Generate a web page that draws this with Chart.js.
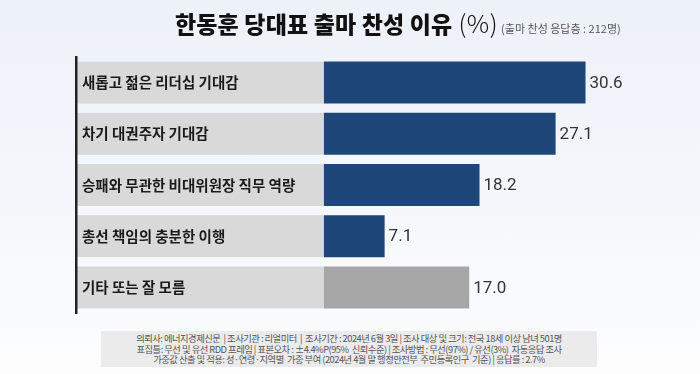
<!DOCTYPE html>
<html>
<head>
<meta charset="utf-8">
<script src="https://cdn.jsdelivr.net/npm/chart.js@4"></script>
<style>
  html, body { margin:0; padding:0; }
  body { width:700px; height:374px; overflow:hidden; position:relative;
    background: linear-gradient(180deg, #edf1f8 0%, #f3f6fb 45%, #fdfdfe 100%);
    font-family: "Noto Sans CJK KR", "Noto Sans", sans-serif; }
  #wrap { position:absolute; left:0; top:0; width:700px; height:374px; }
  #title { position:absolute; left:175px; top:4px; white-space:nowrap; color:#111; }
  #title .main { font-size:23px; font-weight:900; letter-spacing:0.15px; }
  #title .pct { font-size:25px; font-weight:300; letter-spacing:0.5px; }
  #title .sub { font-size:11px; color:#555; letter-spacing:0px; margin-left:3px; }
  #foot { position:absolute; left:101px; top:331px; width:496px; height:36px;
    background:#ebebeb; color:#555; font-size:9.3px; line-height:10.5px; text-align:center;
    letter-spacing:-0.5px; padding-top:2px; box-sizing:border-box; }
</style>
</head>
<body>
<div id="wrap"><canvas id="c" width="700" height="374"></canvas></div>
<div id="title"><span class="main">한동훈 당대표 출마 찬성 이유</span><span class="pct"> (%)</span><span class="sub">(출마 찬성 응답층 : 212명)</span></div>
<div id="foot">
<div>의뢰사: 에너지경제신문 &nbsp;| 조사기관 : 리얼미터 &nbsp;| &nbsp;조사기간 : 2024년 6월 3일 | 조사 대상 및 크기: 전국 18세 이상 남녀 501명</div>
<div>표집틀: 무선 및 유선 RDD 프레임 | 표본오차 : ±4.4%P(95% &nbsp;신뢰수준) | 조사방법 : 무선(97%) / 유선(3%) &nbsp;자동응답 조사</div>
<div>가중값 산출 및 적용: 성·연령·지역별 &nbsp;가중 부여 (2024년 4월 말 행정안전부 &nbsp;주민등록인구 &nbsp;기준) | 응답률 : 2.7%</div>
</div>
<script>
const categories = ['새롭고 젊은 리더십 기대감', '차기 대권주자 기대감', '승패와 무관한 비대위원장 직무 역량', '총선 책임의 충분한 이행', '기타 또는 잘 모름'];
const values = [30.6, 27.1, 18.2, 7.1, 17.0];
const barColors = ['#1f4679', '#1f4679', '#1f4679', '#1f4679', '#a6a6a6'];

const bandPlugin = {
  id: 'bands',
  beforeDraw(chart) {
    const ctx = chart.ctx, xs = chart.scales.x, area = chart.chartArea;
    const meta = chart.getDatasetMeta(0);
    ctx.save();
    ctx.fillStyle = '#d9d9d9';
    meta.data.forEach(bar => {
      const h = bar.height;
      ctx.fillRect(area.left + 1, bar.y - h / 2, xs.getPixelForValue(0) - area.left - 1, h);
    });
    ctx.restore();
  }
};
const valuePlugin = {
  id: 'values',
  afterDatasetsDraw(chart) {
    const ctx = chart.ctx, meta = chart.getDatasetMeta(0);
    ctx.save();
    ctx.font = '17px Roboto, "Noto Sans", sans-serif';
    ctx.fillStyle = '#333';
    ctx.textAlign = 'left';
    ctx.textBaseline = 'middle';
    meta.data.forEach((bar, i) => {
      ctx.fillText(values[i].toFixed(1), bar.x + 4, bar.y + 1);
    });
    ctx.restore();
  }
};

new Chart(document.getElementById('c'), {
  type: 'bar',
  data: {
    labels: categories,
    datasets: [{ data: values, backgroundColor: barColors, borderWidth: 0,
      barPercentage: 0.82, categoryPercentage: 1 }]
  },
  options: {
    indexAxis: 'y',
    responsive: false,
    animation: false,
    layout: { padding: { left: 76, right: 23, top: 57, bottom: 61 } },
    plugins: { legend: { display: false }, tooltip: { enabled: false } },
    scales: {
      x: { display: false, min: -29, max: 41.3 },
      y: {
        position: 'left',
        grid: { display: false, drawTicks: false },
        border: { display: true, color: '#222', width: 2.5 },
        afterFit: s => { s.width = 0; },
        ticks: { mirror: true, padding: 6, color: '#1a1a1a',
          font: { family: '"Noto Sans CJK KR", sans-serif', size: 14.5, weight: 'bold' } }
      }
    }
  },
  plugins: [bandPlugin, valuePlugin]
});
</script>
</body>
</html>
